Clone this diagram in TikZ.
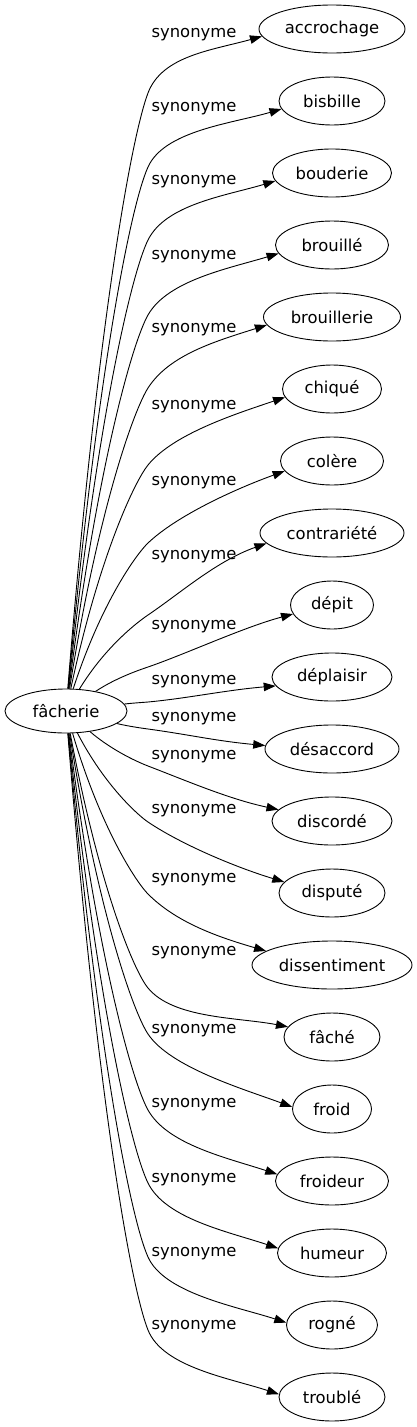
\documentclass[tikz,border=0pt]{standalone}
\usepackage{fontspec}
\setmainfont{DejaVu Sans}
\usetikzlibrary{shapes.geometric,arrows.meta}

\tikzset{
  mot/.style={draw, ellipse, inner sep=0pt, minimum height=48pt, line width=0.9pt},
  lien/.style={line width=0.9pt, -{Triangle[length=12pt,width=8.5pt]}},
  etiquette/.style={inner sep=0pt}
}

\begin{document}
\begin{tikzpicture}[x=1pt,y=1pt,font=\fontsize{16.4}{19}\selectfont]
  \useasboundingbox (0,0) rectangle (417,-1427);
  \node[mot, minimum width=122pt, minimum height=44pt] (facherie) at (66,-711) {fâcherie};
  \foreach \nom/\mot/\yc/\w/\off/\yl/\yk [count=\i] in {
      accrochage/accrochage/29/146/7/35/93,
      bisbille/bisbille/101/106/8/109/167,
      bouderie/bouderie/173/119/8/182/240,
      brouille/brouillé/245/113/8/257/315,
      brouillerie/brouillerie/317/137/8/330/388,
      chique/chiqué/389/99/8/407/465,
      colere/colère/461/103/10/483/543,
      contrariete/contrariété/533/144/10/557/615,
      depit/dépit/605/83/9/627/667,
      deplaisir/déplaisir/677/120/9/682/702,
      desaccord/désaccord/749/134/-4/719/729,
      discorde/discordé/821/120/-11/757/766,
      dispute/disputé/893/106/-11/811/822,
      dissentiment/dissentiment/965/160/-14/880/894,
      fache/fâché/1037/96/-10/953/988,
      froid/froid/1109/79/-2/1031/1034,
      froideur/froideur/1181/113/-7/1105/1110,
      humeur/humeur/1253/109/-5/1180/1183,
      rogne/rogné/1325/91/-2/1254/1257,
      trouble/troublé/1397/106/-3/1327/1330}
  {
    \node[mot, minimum width=\w pt] (\nom) at (332,-\yc) {\mot};
    \node[etiquette] (syn\i) at (194,-\yl) {synonyme};
    % depart sur le bord, point de coude, pointe
    \pgfmathsetmacro\ps{1/sqrt((82/61)^2+((\yk-711)/22)^2)}
    \pgfmathsetmacro\psx{66+82*\ps}
    \pgfmathsetmacro\psy{711+(\yk-711)*\ps}
    \pgfmathsetmacro\pax{\psx+0.35*(148-\psx)}
    \pgfmathsetmacro\pay{\psy+0.6*(\yk-\psy)}
    \pgfmathsetmacro\ptx{332-0.5*\w*sqrt(1-(\off/24)^2)}
    \pgfmathsetmacro\pty{\yc+(\off)}
    \pgfmathsetmacro\pla{veclen(148-\pax,\yk-\pay)}
    \pgfmathsetmacro\plb{veclen(\ptx-\pax,\pty-\pay)}
    \pgfmathsetmacro\pux{(148-\pax)/\pla+(\ptx-\pax)/\plb}
    \pgfmathsetmacro\puy{(\yk-\pay)/\pla+(\pty-\pay)/\plb}
    \pgfmathsetmacro\plu{veclen(\pux,\puy)}
    \pgfmathsetmacro\pbx{148-0.2*\pla*\pux/\plu}
    \pgfmathsetmacro\pby{\yk-0.2*\pla*\puy/\plu}
    \pgfmathsetmacro\pcx{148+40*\pux/\plu}
    \pgfmathsetmacro\pcy{\yk+40*\puy/\plu}
    \pgfmathsetmacro\pdx{\ptx-50}
    \pgfmathsetmacro\pdy{\pty+0.25*(\yk-\pty)}
    \pgfmathtruncatemacro\ang{round(180+atan(\off/(0.5*\w*sqrt(1-(\off/24)^2))))}
    \coordinate (k\i) at (148,-\yk);
    \draw[lien] (facherie) .. controls (\pax,-\pay) and (\pbx,-\pby) .. (k\i)
      .. controls (\pcx,-\pcy) and (\pdx,-\pdy) .. (\nom.\ang);
  }
\end{tikzpicture}
\end{document}
